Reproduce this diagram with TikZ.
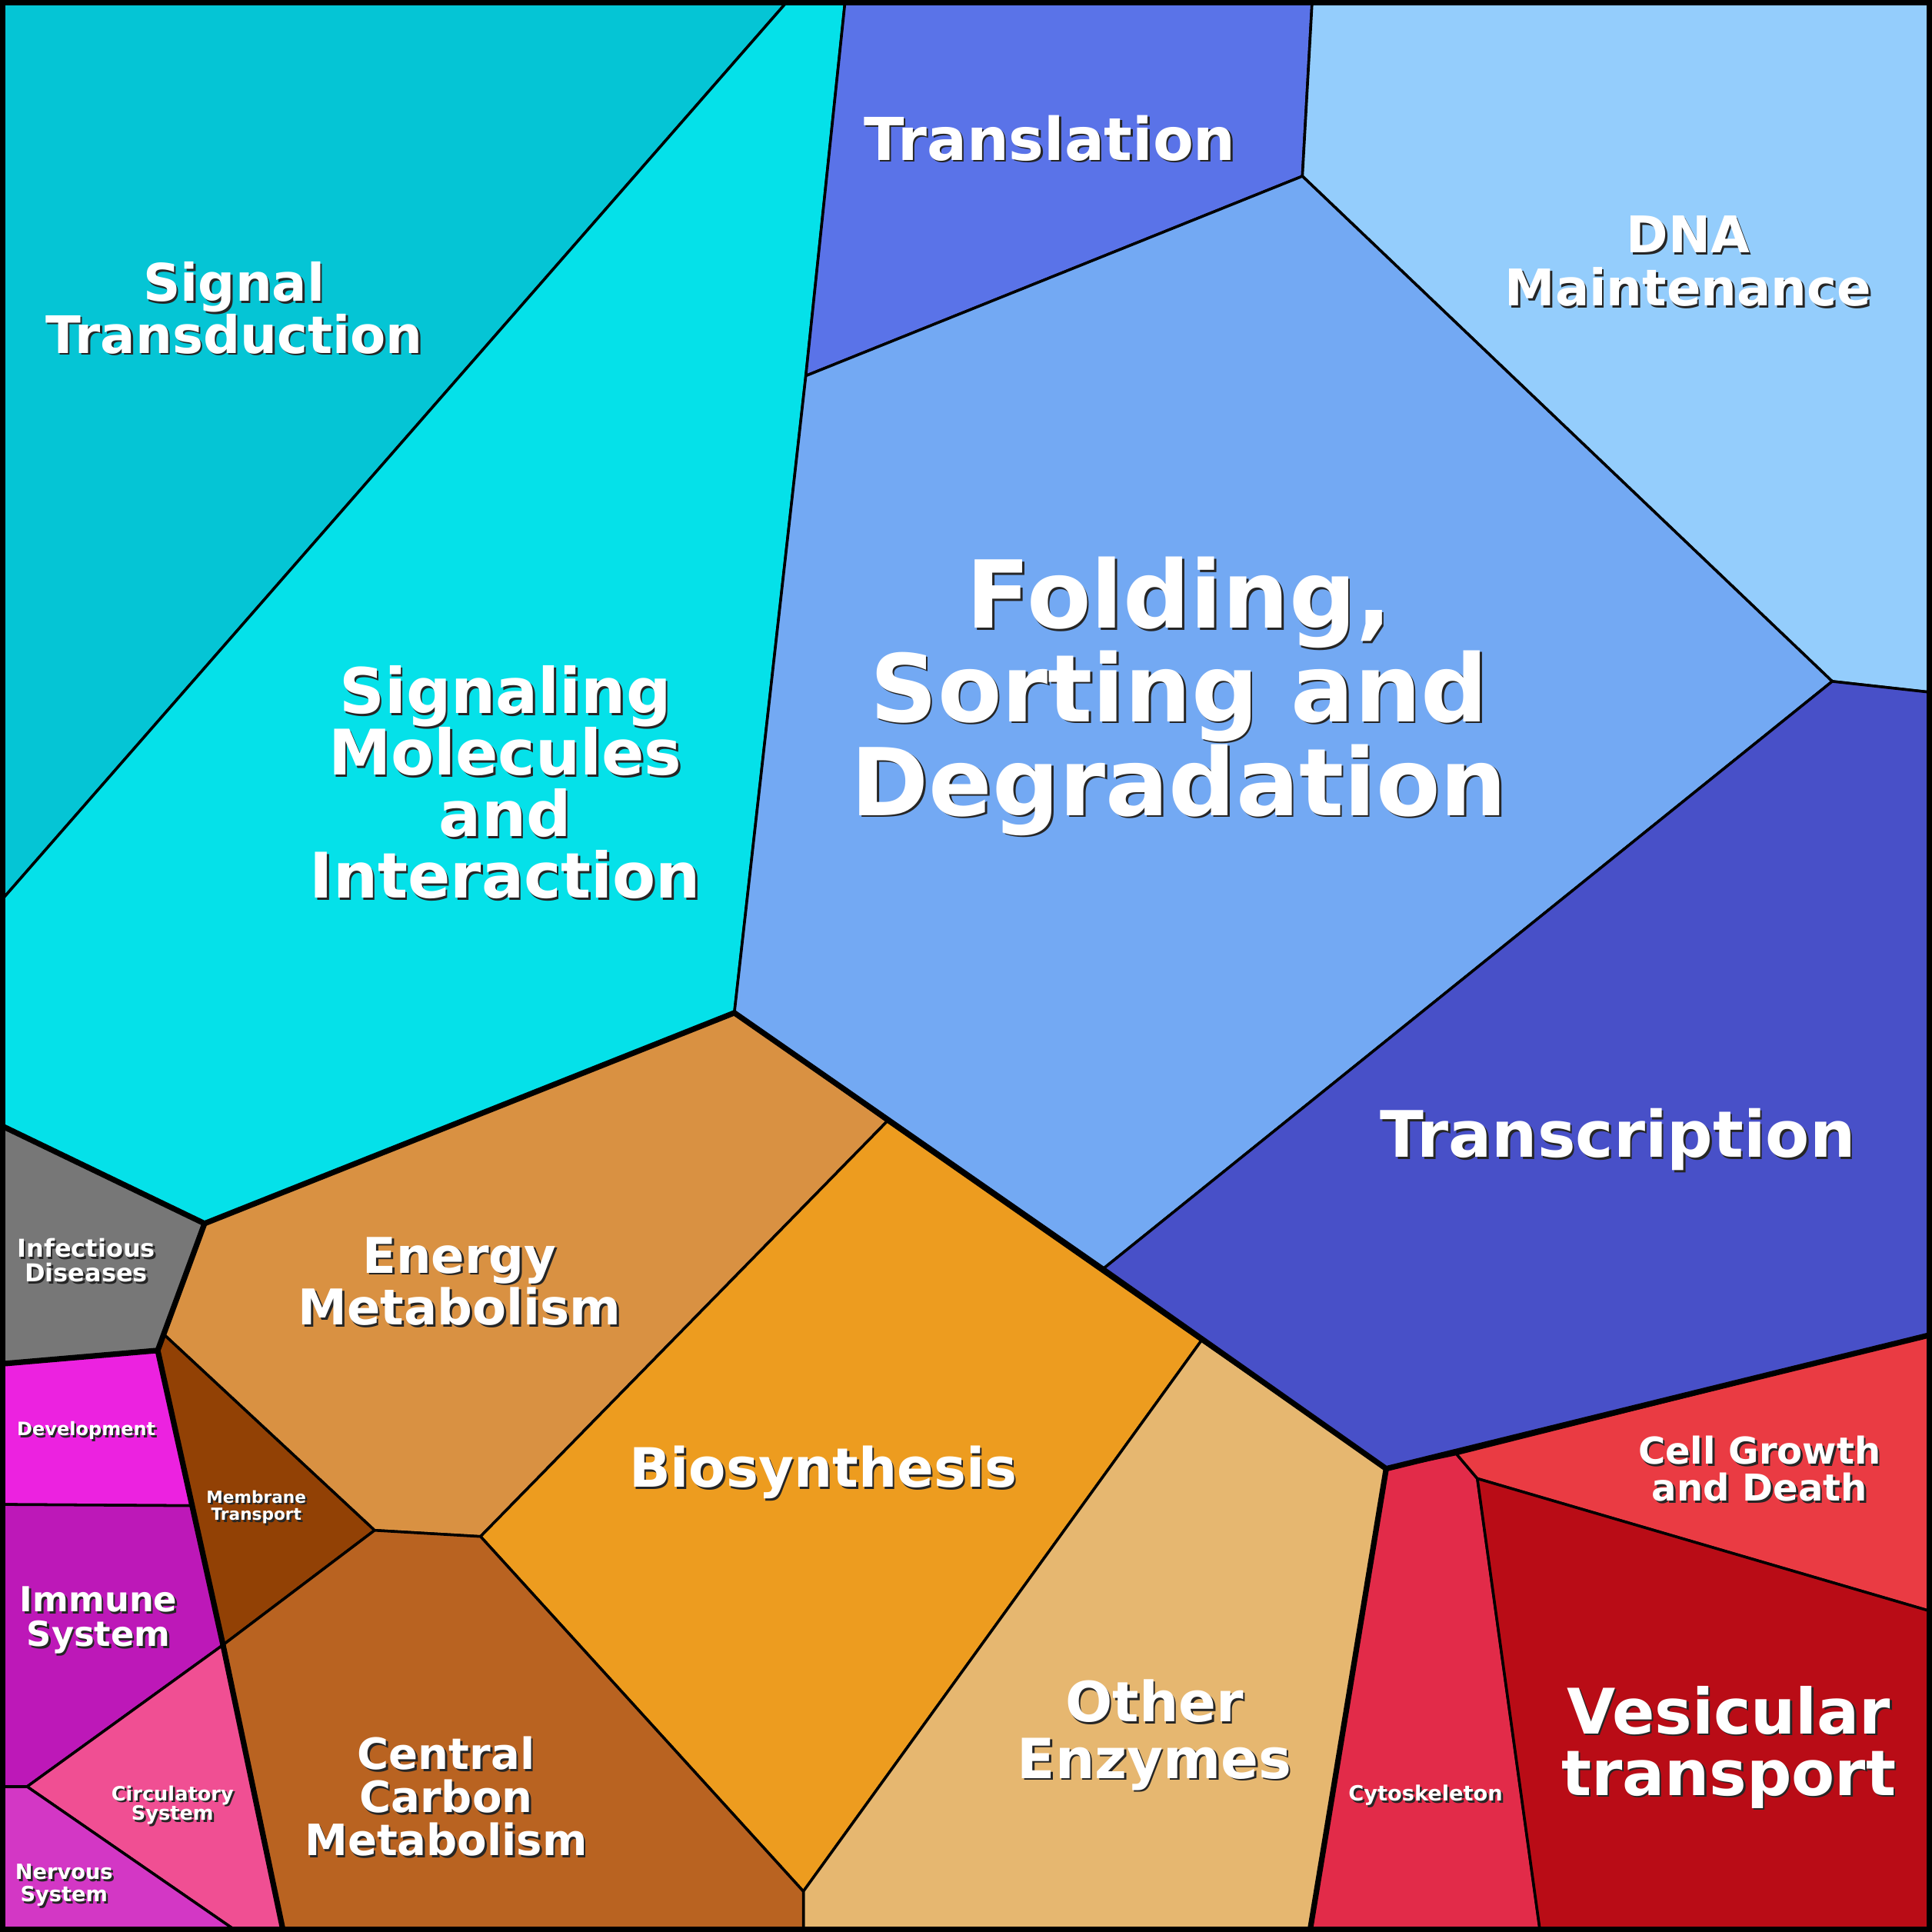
\documentclass[tikz,border=0pt]{standalone}
\usepackage{fontspec}
\setmainfont{DejaVu Sans}
\begin{document}
\newcommand\lbl[6]{%
\node[lab,text=black!85,font={\bfseries\fontsize{#2}{#3}\selectfont}] at ([xshift=1.6pt,yshift=-1.6pt]#1) {#5};
\node[lab,font={\bfseries\fontsize{#2}{#3}\selectfont}] (#6) at (#1) {#5};}
\begin{tikzpicture}[x=1pt,y=-1pt,
 cell/.style={draw=black,line width=2.2pt,line join=round},
 thick border/.style={draw=black,line width=4.5pt,line join=round},
 lab/.style={text=white,align=center,inner sep=0pt}]
\useasboundingbox (0,0) rectangle (1568,1568);
\definecolor{cST}{HTML}{05C5D5}\definecolor{cSM}{HTML}{05E1E9}
\definecolor{cTL}{HTML}{5A73E8}\definecolor{cDNA}{HTML}{94CDFC}
\definecolor{cFO}{HTML}{73A9F3}\definecolor{cTR}{HTML}{4850C8}
\definecolor{cIN}{HTML}{777777}\definecolor{cEN}{HTML}{D99142}
\definecolor{cMT}{HTML}{924105}\definecolor{cBI}{HTML}{ED9C1F}
\definecolor{cOE}{HTML}{E6B770}\definecolor{cCC}{HTML}{B96321}
\definecolor{cDE}{HTML}{EC22E0}\definecolor{cIM}{HTML}{BD18B8}
\definecolor{cCI}{HTML}{F04F93}\definecolor{cNE}{HTML}{D337C5}
\definecolor{cCY}{HTML}{E22B49}\definecolor{cCG}{HTML}{EA3B43}
\definecolor{cVE}{HTML}{B90C16}
\fill[cST,cell] (0,0)--(640,0)--(0,732)--cycle;
\fill[cSM,cell] (640,0)--(686,0)--(654,305)--(596,822)--(166,993)--(0,913)--(0,732)--cycle;
\fill[cTL,cell] (686,0)--(1065,0)--(1057,143)--(654,305)--cycle;
\fill[cDNA,cell] (1065,0)--(1568,0)--(1568,562)--(1487,553)--(1057,143)--cycle;
\fill[cFO,cell] (654,305)--(1057,143)--(1487,553)--(895,1030)--(720,910)--(596,822)--cycle;
\fill[cTR,cell] (1487,553)--(1568,562)--(1568,1083)--(1182,1180)--(1125,1192)--(975,1088)--(895,1030)--cycle;
\fill[cIN,cell] (0,913)--(166,993)--(128,1096)--(0,1107)--cycle;
\fill[cEN,cell] (166,993)--(596,822)--(720,910)--(390,1247)--(304,1242)--(133,1083)--(128,1096)--cycle;
\fill[cMT,cell] (128,1096)--(133,1083)--(304,1242)--(181,1335)--(155,1222)--cycle;
\fill[cBI,cell] (720,910)--(975,1088)--(652,1535)--(390,1247)--cycle;
\fill[cOE,cell] (975,1088)--(1125,1192)--(1063,1568)--(652,1568)--(652,1535)--cycle;
\fill[cCC,cell] (304,1242)--(390,1247)--(652,1535)--(652,1568)--(230,1568)--(181,1335)--cycle;
\fill[cDE,cell] (0,1107)--(128,1096)--(155,1222)--(0,1221)--cycle;
\fill[cIM,cell] (0,1221)--(155,1222)--(181,1335)--(22,1450)--(0,1450)--cycle;
\fill[cCI,cell] (22,1450)--(181,1335)--(230,1568)--(193,1568)--cycle;
\fill[cNE,cell] (0,1450)--(22,1450)--(193,1568)--(0,1568)--cycle;
\fill[cCY,cell] (1125,1192)--(1182,1180)--(1199,1200)--(1250,1568)--(1063,1568)--cycle;
\fill[cCG,cell] (1182,1180)--(1568,1083)--(1568,1308)--(1199,1200)--cycle;
\fill[cVE,cell] (1199,1200)--(1568,1308)--(1568,1568)--(1250,1568)--cycle;
\draw[thick border] (0,913)--(166,993)--(596,822)--(895,1030)--(1125,1192)--(1568,1083);
\draw[thick border] (166,993)--(128,1096)--(0,1107);
\draw[thick border] (128,1096)--(181,1335)--(230,1568);
\draw[thick border] (1125,1192)--(1063,1568);
\draw[line width=9pt] (0,0) rectangle (1568,1568);
\lbl{190,250}{42}{40}{}{Signal\\Transduction}{st}
\lbl{410,635}{51}{50}{}{Signaling\\Molecules\\and\\Interaction}{sm}
\lbl{852,112}{48}{44}{}{Translation}{tl}
\lbl{1370,212}{41}{43}{}{DNA\\Maintenance}{dna}
\lbl{957,565}{76}{76}{}{Folding,\\Sorting and\\Degradation}{fo}
\lbl{1313,925}{52}{46}{}{Transcription}{tr}
\lbl{70,1023}{20}{20}{}{Infectious\\Diseases}{in}
\lbl{373,1040}{40}{42}{}{Energy\\Metabolism}{en}
\lbl{668,1195}{44}{44}{}{Biosynthesis}{bi}
\lbl{937,1408}{45}{46}{}{Other\\Enzymes}{oe}
\lbl{362,1458}{35}{35}{}{Central\\Carbon\\Metabolism}{cc}
\lbl{70,1161}{15}{16}{}{Development}{de}
\lbl{208,1223}{13.5}{14}{}{Membrane\\Transport}{mt}
\lbl{80,1315}{28}{28}{}{Immune\\System}{im}
\lbl{140,1465}{16}{16}{}{Circulatory\\System}{ci}
\lbl{52,1530}{17}{18}{}{Nervous\\System}{ne}
\lbl{1157,1457}{17}{16}{}{Cytoskeleton}{cy}
\lbl{1428,1192}{30}{30}{}{Cell Growth\\and Death}{cg}
\lbl{1403,1418}{51}{50}{}{Vesicular\\transport}{ve}
\end{tikzpicture}
\end{document}
